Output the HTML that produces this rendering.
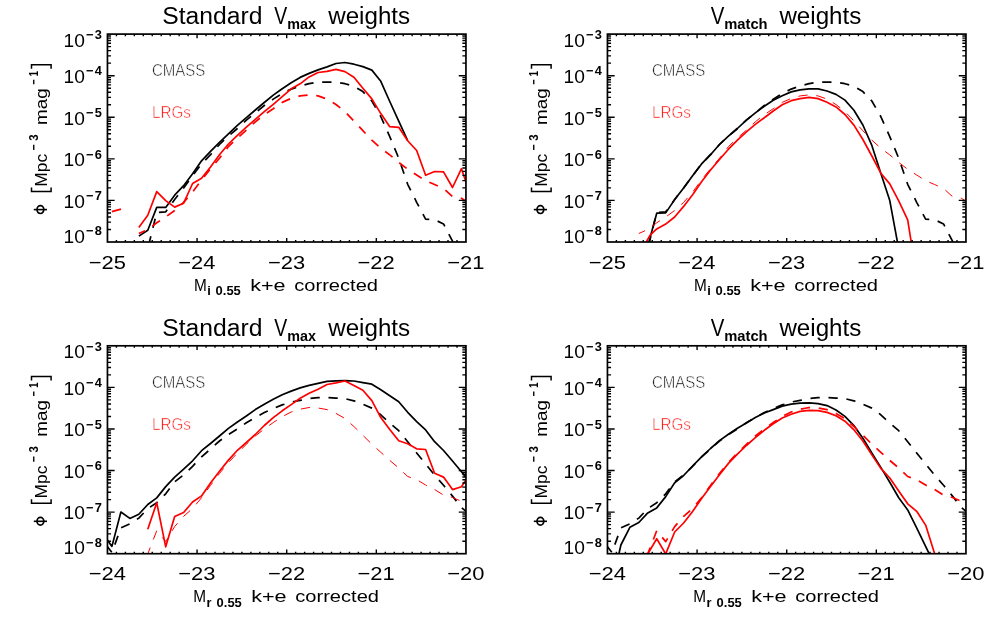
<!DOCTYPE html>
<html><head><meta charset="utf-8"><title>Luminosity functions</title>
<style>
html,body{margin:0;padding:0;background:#fff;}
body{width:999px;height:623px;overflow:hidden;position:relative;font-family:"Liberation Sans",sans-serif;}
</style></head><body>
<svg width="999" height="623" viewBox="0 0 999 623" style="position:absolute;left:0;top:0;will-change:transform" font-family="Liberation Sans, sans-serif">
<rect x="0" y="0" width="999" height="623" fill="#fff"/>
<defs>
<clipPath id="c1"><rect x="107.45" y="34.1" width="358.5" height="207.9"/></clipPath>
<clipPath id="c2"><rect x="607.45" y="34.1" width="358.5" height="207.9"/></clipPath>
<clipPath id="c3"><rect x="107.45" y="345.8" width="358.5" height="207.9"/></clipPath>
<clipPath id="c4"><rect x="607.45" y="345.8" width="358.5" height="207.9"/></clipPath>
</defs>
<g clip-path="url(#c1)">
<path d="M138.82 236.1 L147.78 230.3 L156.74 207.4 L165.71 207.4 L174.67 195.2 L183.63 185.7 L192.59 173.7 L201.56 160.8 L210.52 151.4 L219.48 142.3 L228.44 133.8 L237.41 125.4 L246.37 117.6 L255.33 110 L264.29 102.5 L273.26 95.1 L282.22 88.7 L291.18 82.8 L300.14 77.4 L309.11 73.4 L318.07 69.9 L327.03 66.9 L335.99 63.5 L344.96 62.5 L353.92 64.2 L362.88 66.6 L371.84 70.1 L380.81 81.3 L389.77 101.5 L398.73 121.2 L407.69 140.7" fill="none" stroke="#000" stroke-width="1.7" stroke-linejoin="round"/>
<path d="M147.78 248.7 L156.74 212.5 L165.71 211.8 L174.67 199.6 L183.63 188 L192.59 175.7 L201.56 163.9 L210.52 154.7 L219.48 144.5 L228.44 136.1 L237.41 128.5 L246.37 120.2 L255.33 112.9 L264.29 105.5 L273.26 99.1 L282.22 93.5 L291.18 89.1 L300.14 86 L309.11 83.6 L318.07 82.2 L327.03 82 L335.99 82.3 L344.96 83.7 L353.92 86.3 L362.88 91.6 L371.84 101 L380.81 116.6 L389.77 136.6 L398.73 158.2 L407.69 184.3 L416.66 202.3 L425.62 219.1 L434.58 219.7 L443.54 223.9 L452.51 241.2 L461.47 262" fill="none" stroke="#000" stroke-width="1.7" stroke-linejoin="round" stroke-dasharray="9.3 8.7" stroke-dashoffset="-3.5"/>
<path d="M138.82 227.6 L147.78 215.3 L156.74 191.6 L165.71 200.6 L174.67 207.1 L183.63 203.2 L192.59 183.5 L201.56 178.3 L210.52 167 L219.48 154.8 L228.44 144 L237.41 135.3 L246.37 127.2 L255.33 119.3 L264.29 111.7 L273.26 104.3 L282.22 96.7 L291.18 88.8 L300.14 83.8 L309.11 76.9 L318.07 72.5 L327.03 71.3 L335.99 69.4 L344.96 71.6 L353.92 77.3 L362.88 88.3 L371.84 98.9 L380.81 113.6 L389.77 126.7 L398.73 127.3 L407.69 140.7 L416.66 150.5 L425.62 175.2 L434.58 171.5 L443.54 171.9 L452.51 187.5 L461.47 168.7 L470.43 195.4" fill="none" stroke="#ff0000" stroke-width="1.7" stroke-linejoin="round"/>
<path d="M111.82 211.57 L120.96 209.11" fill="none" stroke="#ff0000" stroke-width="1.7" stroke-linejoin="round"/>
<path d="M138.82 233.5 L147.78 229.5 L156.74 222.8 L165.71 217 L174.67 210.5 L183.63 202.4 L192.59 192.1 L201.56 179.8 L210.52 168.7 L219.48 158.3 L228.44 146.6 L237.41 138 L246.37 130.2 L255.33 121.8 L264.29 114.7 L273.26 108.7 L282.22 102.4 L291.18 98.4 L300.14 95.9 L309.11 94.9 L318.07 95.9 L327.03 99.1 L335.99 104.5 L344.96 111.6 L353.92 121 L362.88 130.7 L371.84 140.1 L380.81 148.2 L389.77 154.9 L398.73 162.4 L407.69 169.3 L416.66 175 L425.62 180.7 L434.58 184.5 L443.54 188.5 L452.51 196.6 L461.47 198.3 L470.43 204" fill="none" stroke="#ff0000" stroke-width="1.7" stroke-linejoin="round" stroke-dasharray="9.3 8.7" stroke-dashoffset="2.5"/>
</g>
<g clip-path="url(#c2)">
<path d="M647.78 246.1 L656.74 213.2 L665.71 212.9 L674.67 199.6 L683.63 188 L692.59 175.7 L701.56 163.9 L710.52 154.7 L719.48 144.5 L728.44 136.1 L737.41 128.5 L746.37 120.2 L755.33 112.9 L764.29 106.3 L773.26 100.3 L782.22 95.7 L791.18 91.9 L800.14 89.8 L809.11 88.8 L818.07 88.8 L827.03 91 L835.99 94.4 L844.96 100.1 L853.92 110.3 L862.88 125 L871.84 145.4 L880.81 173.2 L889.77 200.6 L898.73 249" fill="none" stroke="#000" stroke-width="1.7" stroke-linejoin="round"/>
<path d="M647.78 248.7 L656.74 212.5 L665.71 211.8 L674.67 199.6 L683.63 188 L692.59 175.7 L701.56 163.9 L710.52 154.7 L719.48 144.5 L728.44 136.1 L737.41 128.5 L746.37 120.2 L755.33 112.9 L764.29 105.5 L773.26 99.1 L782.22 93.5 L791.18 89.1 L800.14 86 L809.11 83.6 L818.07 82.2 L827.03 82 L835.99 82.3 L844.96 83.7 L853.92 86.3 L862.88 91.6 L871.84 101 L880.81 116.6 L889.77 136.6 L898.73 158.2 L907.69 184.3 L916.66 202.3 L925.62 219.1 L934.58 219.7 L943.54 223.9 L952.51 241.2 L961.47 262" fill="none" stroke="#000" stroke-width="1.7" stroke-linejoin="round" stroke-dasharray="9.3 8.7" stroke-dashoffset="-3.5"/>
<path d="M646.26 241.9 L650.38 234.8 L656.74 228.9 L665.71 224.1 L674.67 217 L683.63 206.4 L692.59 194.8 L701.56 181.8 L710.52 170 L719.48 159.5 L728.44 149.2 L737.41 140.1 L746.37 131.9 L755.33 124.4 L764.29 117.8 L773.26 111 L782.22 104.8 L791.18 100.7 L800.14 98.6 L809.11 97.3 L818.07 98.6 L827.03 102.3 L835.99 106.9 L844.96 114.5 L853.92 125.1 L862.88 139.5 L871.84 156 L880.81 173.2 L889.77 183.9 L898.73 200.8 L907.69 219.8 L916.66 276.6" fill="none" stroke="#ff0000" stroke-width="1.7" stroke-linejoin="round"/>
<path d="M638.82 233.5 L647.78 229.5 L656.74 222.8 L665.71 217 L674.67 210.5 L683.63 202.4 L692.59 192.1 L701.56 179.8 L710.52 168.7 L719.48 158.3 L728.44 146.6 L737.41 138 L746.37 130.2 L755.33 121.8 L764.29 114.7 L773.26 108.7 L782.22 102.4 L791.18 98.4 L800.14 95.9 L809.11 94.9 L818.07 95.9 L827.03 99.1 L835.99 104.5 L844.96 111.6 L853.92 121 L862.88 130.7 L871.84 140.1 L880.81 148.2 L889.77 154.9 L898.73 162.4 L907.69 169.3 L916.66 175 L925.62 180.7 L934.58 184.5 L943.54 188.5 L952.51 196.6 L961.47 198.3 L970.43 204" fill="none" stroke="#ff0000" stroke-width="1" stroke-linejoin="round" stroke-dasharray="9.3 8.7" stroke-dashoffset="2.5"/>
</g>
<g clip-path="url(#c3)">
<path d="M102.97 533.7 L111.93 546.4 L120.89 512 L129.86 518.4 L138.82 514.3 L147.78 504.5 L156.74 497.9 L165.71 486.6 L174.67 477.2 L183.63 469.2 L192.59 460.8 L201.56 450.7 L210.52 443.5 L219.48 436 L228.44 428.4 L237.41 422 L246.37 416 L255.33 409.6 L264.29 404.2 L273.26 399.2 L282.22 394.8 L291.18 391.1 L300.14 387.9 L309.11 385.4 L318.07 383.3 L327.03 381.4 L335.99 380.8 L344.96 380.7 L353.92 381 L362.88 382.7 L371.84 384.2 L380.81 389.8 L389.77 395.8 L398.73 401.7 L407.69 412.3 L416.66 421.7 L425.62 429.9 L434.58 441.7 L443.54 450.5 L452.51 461 L461.47 471.7 L470.43 483" fill="none" stroke="#000" stroke-width="1.7" stroke-linejoin="round"/>
<path d="M102.97 541 L111.93 552.5 L120.89 527.9 L129.86 523.8 L138.82 518.1 L147.78 508.6 L156.74 502.7 L165.71 493.8 L174.67 481.8 L183.63 474.9 L192.59 466.3 L201.56 456.9 L210.52 449 L219.48 441 L228.44 434.5 L237.41 428.9 L246.37 422.7 L255.33 417.4 L264.29 412.6 L273.26 408.5 L282.22 404.9 L291.18 402.1 L300.14 400.3 L309.11 398.6 L318.07 397.7 L327.03 397.6 L335.99 398.1 L344.96 398.7 L353.92 400.8 L362.88 404.2 L371.84 408.1 L380.81 414.8 L389.77 423 L398.73 430.7 L407.69 441.7 L416.66 453 L425.62 464 L434.58 475.1 L443.54 485.2 L452.51 496.1 L461.47 507.6 L470.43 515" fill="none" stroke="#000" stroke-width="1.7" stroke-linejoin="round" stroke-dasharray="9.3 8.7" stroke-dashoffset="-5"/>
<path d="M147.78 529.3 L156.74 502.7 L165.71 546.8 L174.67 516.6 L183.63 512.5 L192.59 502 L201.56 495.9 L210.52 483.1 L219.48 471.2 L228.44 460.1 L237.41 450.3 L246.37 442.5 L255.33 434.5 L264.29 425.5 L273.26 417.7 L282.22 410.8 L291.18 404.6 L300.14 398.3 L309.11 393.3 L318.07 389.2 L327.03 384.5 L335.99 382.9 L344.96 381 L353.92 385.4 L362.88 390.3 L371.84 400.6 L380.81 417.6 L389.77 429.5 L398.73 440.8 L407.69 443.8 L416.66 448.8 L425.62 449.5 L434.58 473.3 L443.54 477.1 L452.51 489.6 L461.47 486.7 L470.43 472.9" fill="none" stroke="#ff0000" stroke-width="1.7" stroke-linejoin="round"/>
<path d="M147.78 553.9 L156.74 530.7 L165.71 541.6 L174.67 526.6 L183.63 516.3 L192.59 508.5 L201.56 497.7 L210.52 485.4 L219.48 473.5 L228.44 462.6 L237.41 453 L246.37 444.3 L255.33 436 L264.29 429 L273.26 422.5 L282.22 416.6 L291.18 412 L300.14 409.2 L309.11 407.5 L318.07 408 L327.03 409.6 L335.99 413.4 L344.96 418.5 L353.92 426.5 L362.88 435.3 L371.84 444.2 L380.81 452.3 L389.77 460.4 L398.73 468 L407.69 476.5 L416.66 479.6 L425.62 485 L434.58 489.5 L443.54 495.1 L452.51 497.5 L461.47 501.3 L470.43 506" fill="none" stroke="#ff0000" stroke-width="1" stroke-linejoin="round" stroke-dasharray="9.3 8.7" stroke-dashoffset="2.5"/>
</g>
<g clip-path="url(#c4)">
<path d="M611.93 585 L620.89 545 L629.86 527.3 L638.82 522.5 L647.78 512.9 L656.74 507.9 L665.71 496.6 L674.67 482.8 L683.63 475.5 L692.59 466 L701.56 456.8 L710.52 448.5 L719.48 440.6 L728.44 434.2 L737.41 428.2 L746.37 422.9 L755.33 417.6 L764.29 413 L773.26 409.6 L782.22 406.1 L791.18 404.2 L800.14 403.2 L809.11 402.9 L818.07 403.6 L827.03 405.6 L835.99 410 L844.96 416.4 L853.92 425.6 L862.88 438.3 L871.84 452.9 L880.81 467.4 L889.77 482.2 L898.73 497.7 L907.69 509.9 L916.66 527.8 L925.62 546.4 L934.58 564.9" fill="none" stroke="#000" stroke-width="1.7" stroke-linejoin="round"/>
<path d="M602.97 541 L611.93 552.5 L620.89 527.9 L629.86 523.8 L638.82 518.1 L647.78 508.6 L656.74 502.7 L665.71 493.8 L674.67 481.8 L683.63 474.9 L692.59 466.3 L701.56 456.9 L710.52 449 L719.48 441 L728.44 434.5 L737.41 428.9 L746.37 422.7 L755.33 417.4 L764.29 412.6 L773.26 408.5 L782.22 404.9 L791.18 402.1 L800.14 400.3 L809.11 398.6 L818.07 397.7 L827.03 397.6 L835.99 398.1 L844.96 398.7 L853.92 400.8 L862.88 404.2 L871.84 408.1 L880.81 414.8 L889.77 423 L898.73 430.7 L907.69 441.7 L916.66 453 L925.62 464 L934.58 475.1 L943.54 485.2 L952.51 496.1 L961.47 507.6 L970.43 515" fill="none" stroke="#000" stroke-width="1.7" stroke-linejoin="round" stroke-dasharray="9.3 8.7" stroke-dashoffset="-5"/>
<path d="M647.78 553.9 L656.74 538.8 L665.71 553.9 L674.67 532 L683.63 523 L692.59 511.5 L701.56 498.5 L710.52 486.4 L719.48 474.7 L728.44 463.4 L737.41 454.2 L746.37 445.5 L755.33 437.6 L764.29 430.3 L773.26 423.8 L782.22 418 L791.18 414.2 L800.14 411.4 L809.11 410.3 L818.07 410.6 L827.03 412.4 L835.99 415.8 L844.96 421.2 L853.92 429.8 L862.88 441 L871.84 454.9 L880.81 468.4 L889.77 478 L898.73 491 L907.69 503.8 L916.66 511.3 L925.62 525.1 L934.58 553.5 L943.54 600" fill="none" stroke="#ff0000" stroke-width="1.7" stroke-linejoin="round"/>
<path d="M647.78 553.9 L656.74 530.7 L665.71 541.6 L674.67 526.6 L683.63 516.3 L692.59 508.5 L701.56 497.7 L710.52 485.4 L719.48 473.5 L728.44 462.6 L737.41 453 L746.37 444.3 L755.33 436 L764.29 429 L773.26 422.5 L782.22 416.6 L791.18 412 L800.14 409.2 L809.11 407.5 L818.07 408 L827.03 409.6 L835.99 413.4 L844.96 418.5 L853.92 426.5 L862.88 435.3 L871.84 444.2 L880.81 452.3 L889.77 460.4 L898.73 468 L907.69 476.5 L916.66 479.6 L925.62 485 L934.58 489.5 L943.54 495.1 L952.51 497.5 L961.47 501.3 L970.43 506" fill="none" stroke="#ff0000" stroke-width="1.7" stroke-linejoin="round" stroke-dasharray="9.3 8.7" stroke-dashoffset="2.5"/>
</g>
<rect x="107.45" y="34.1" width="358.5" height="207.9" fill="none" stroke="#000" stroke-width="1.7"/>
<path d="M116.41 242 v-2.05 M116.41 34.1 v2.05 M125.38 242 v-2.05 M125.38 34.1 v2.05 M134.34 242 v-2.05 M134.34 34.1 v2.05 M143.3 242 v-2.05 M143.3 34.1 v2.05 M152.26 242 v-2.05 M152.26 34.1 v2.05 M161.22 242 v-2.05 M161.22 34.1 v2.05 M170.19 242 v-2.05 M170.19 34.1 v2.05 M179.15 242 v-2.05 M179.15 34.1 v2.05 M188.11 242 v-2.05 M188.11 34.1 v2.05 M197.07 242 v-4.1 M197.07 34.1 v4.1 M206.04 242 v-2.05 M206.04 34.1 v2.05 M215 242 v-2.05 M215 34.1 v2.05 M223.96 242 v-2.05 M223.96 34.1 v2.05 M232.93 242 v-2.05 M232.93 34.1 v2.05 M241.89 242 v-2.05 M241.89 34.1 v2.05 M250.85 242 v-2.05 M250.85 34.1 v2.05 M259.81 242 v-2.05 M259.81 34.1 v2.05 M268.77 242 v-2.05 M268.77 34.1 v2.05 M277.74 242 v-2.05 M277.74 34.1 v2.05 M286.7 242 v-4.1 M286.7 34.1 v4.1 M295.66 242 v-2.05 M295.66 34.1 v2.05 M304.62 242 v-2.05 M304.62 34.1 v2.05 M313.59 242 v-2.05 M313.59 34.1 v2.05 M322.55 242 v-2.05 M322.55 34.1 v2.05 M331.51 242 v-2.05 M331.51 34.1 v2.05 M340.48 242 v-2.05 M340.48 34.1 v2.05 M349.44 242 v-2.05 M349.44 34.1 v2.05 M358.4 242 v-2.05 M358.4 34.1 v2.05 M367.36 242 v-2.05 M367.36 34.1 v2.05 M376.32 242 v-4.1 M376.32 34.1 v4.1 M385.29 242 v-2.05 M385.29 34.1 v2.05 M394.25 242 v-2.05 M394.25 34.1 v2.05 M403.21 242 v-2.05 M403.21 34.1 v2.05 M412.18 242 v-2.05 M412.18 34.1 v2.05 M421.14 242 v-2.05 M421.14 34.1 v2.05 M430.1 242 v-2.05 M430.1 34.1 v2.05 M439.06 242 v-2.05 M439.06 34.1 v2.05 M448.02 242 v-2.05 M448.02 34.1 v2.05 M456.99 242 v-2.05 M456.99 34.1 v2.05 M107.45 63.16 h3.6 M465.95 63.16 h-3.6 M107.45 55.84 h3.6 M465.95 55.84 h-3.6 M107.45 50.65 h3.6 M465.95 50.65 h-3.6 M107.45 46.62 h3.6 M465.95 46.62 h-3.6 M107.45 43.32 h3.6 M465.95 43.32 h-3.6 M107.45 40.54 h3.6 M465.95 40.54 h-3.6 M107.45 38.13 h3.6 M465.95 38.13 h-3.6 M107.45 36 h3.6 M465.95 36 h-3.6 M107.45 75.68 h7.2 M465.95 75.68 h-7.2 M107.45 104.74 h3.6 M465.95 104.74 h-3.6 M107.45 97.42 h3.6 M465.95 97.42 h-3.6 M107.45 92.23 h3.6 M465.95 92.23 h-3.6 M107.45 88.2 h3.6 M465.95 88.2 h-3.6 M107.45 84.9 h3.6 M465.95 84.9 h-3.6 M107.45 82.12 h3.6 M465.95 82.12 h-3.6 M107.45 79.71 h3.6 M465.95 79.71 h-3.6 M107.45 77.58 h3.6 M465.95 77.58 h-3.6 M107.45 117.26 h7.2 M465.95 117.26 h-7.2 M107.45 146.32 h3.6 M465.95 146.32 h-3.6 M107.45 139 h3.6 M465.95 139 h-3.6 M107.45 133.81 h3.6 M465.95 133.81 h-3.6 M107.45 129.78 h3.6 M465.95 129.78 h-3.6 M107.45 126.48 h3.6 M465.95 126.48 h-3.6 M107.45 123.7 h3.6 M465.95 123.7 h-3.6 M107.45 121.29 h3.6 M465.95 121.29 h-3.6 M107.45 119.16 h3.6 M465.95 119.16 h-3.6 M107.45 158.84 h7.2 M465.95 158.84 h-7.2 M107.45 187.9 h3.6 M465.95 187.9 h-3.6 M107.45 180.58 h3.6 M465.95 180.58 h-3.6 M107.45 175.39 h3.6 M465.95 175.39 h-3.6 M107.45 171.36 h3.6 M465.95 171.36 h-3.6 M107.45 168.06 h3.6 M465.95 168.06 h-3.6 M107.45 165.28 h3.6 M465.95 165.28 h-3.6 M107.45 162.87 h3.6 M465.95 162.87 h-3.6 M107.45 160.74 h3.6 M465.95 160.74 h-3.6 M107.45 200.42 h7.2 M465.95 200.42 h-7.2 M107.45 229.48 h3.6 M465.95 229.48 h-3.6 M107.45 222.16 h3.6 M465.95 222.16 h-3.6 M107.45 216.97 h3.6 M465.95 216.97 h-3.6 M107.45 212.94 h3.6 M465.95 212.94 h-3.6 M107.45 209.64 h3.6 M465.95 209.64 h-3.6 M107.45 206.86 h3.6 M465.95 206.86 h-3.6 M107.45 204.45 h3.6 M465.95 204.45 h-3.6 M107.45 202.32 h3.6 M465.95 202.32 h-3.6" fill="none" stroke="#000" stroke-width="1.4"/>
<rect x="607.45" y="34.1" width="358.5" height="207.9" fill="none" stroke="#000" stroke-width="1.7"/>
<path d="M616.41 242 v-2.05 M616.41 34.1 v2.05 M625.38 242 v-2.05 M625.38 34.1 v2.05 M634.34 242 v-2.05 M634.34 34.1 v2.05 M643.3 242 v-2.05 M643.3 34.1 v2.05 M652.26 242 v-2.05 M652.26 34.1 v2.05 M661.23 242 v-2.05 M661.23 34.1 v2.05 M670.19 242 v-2.05 M670.19 34.1 v2.05 M679.15 242 v-2.05 M679.15 34.1 v2.05 M688.11 242 v-2.05 M688.11 34.1 v2.05 M697.08 242 v-4.1 M697.08 34.1 v4.1 M706.04 242 v-2.05 M706.04 34.1 v2.05 M715 242 v-2.05 M715 34.1 v2.05 M723.96 242 v-2.05 M723.96 34.1 v2.05 M732.93 242 v-2.05 M732.93 34.1 v2.05 M741.89 242 v-2.05 M741.89 34.1 v2.05 M750.85 242 v-2.05 M750.85 34.1 v2.05 M759.81 242 v-2.05 M759.81 34.1 v2.05 M768.78 242 v-2.05 M768.78 34.1 v2.05 M777.74 242 v-2.05 M777.74 34.1 v2.05 M786.7 242 v-4.1 M786.7 34.1 v4.1 M795.66 242 v-2.05 M795.66 34.1 v2.05 M804.62 242 v-2.05 M804.62 34.1 v2.05 M813.59 242 v-2.05 M813.59 34.1 v2.05 M822.55 242 v-2.05 M822.55 34.1 v2.05 M831.51 242 v-2.05 M831.51 34.1 v2.05 M840.48 242 v-2.05 M840.48 34.1 v2.05 M849.44 242 v-2.05 M849.44 34.1 v2.05 M858.4 242 v-2.05 M858.4 34.1 v2.05 M867.36 242 v-2.05 M867.36 34.1 v2.05 M876.33 242 v-4.1 M876.33 34.1 v4.1 M885.29 242 v-2.05 M885.29 34.1 v2.05 M894.25 242 v-2.05 M894.25 34.1 v2.05 M903.21 242 v-2.05 M903.21 34.1 v2.05 M912.18 242 v-2.05 M912.18 34.1 v2.05 M921.14 242 v-2.05 M921.14 34.1 v2.05 M930.1 242 v-2.05 M930.1 34.1 v2.05 M939.06 242 v-2.05 M939.06 34.1 v2.05 M948.03 242 v-2.05 M948.03 34.1 v2.05 M956.99 242 v-2.05 M956.99 34.1 v2.05 M607.45 63.16 h3.6 M965.95 63.16 h-3.6 M607.45 55.84 h3.6 M965.95 55.84 h-3.6 M607.45 50.65 h3.6 M965.95 50.65 h-3.6 M607.45 46.62 h3.6 M965.95 46.62 h-3.6 M607.45 43.32 h3.6 M965.95 43.32 h-3.6 M607.45 40.54 h3.6 M965.95 40.54 h-3.6 M607.45 38.13 h3.6 M965.95 38.13 h-3.6 M607.45 36 h3.6 M965.95 36 h-3.6 M607.45 75.68 h7.2 M965.95 75.68 h-7.2 M607.45 104.74 h3.6 M965.95 104.74 h-3.6 M607.45 97.42 h3.6 M965.95 97.42 h-3.6 M607.45 92.23 h3.6 M965.95 92.23 h-3.6 M607.45 88.2 h3.6 M965.95 88.2 h-3.6 M607.45 84.9 h3.6 M965.95 84.9 h-3.6 M607.45 82.12 h3.6 M965.95 82.12 h-3.6 M607.45 79.71 h3.6 M965.95 79.71 h-3.6 M607.45 77.58 h3.6 M965.95 77.58 h-3.6 M607.45 117.26 h7.2 M965.95 117.26 h-7.2 M607.45 146.32 h3.6 M965.95 146.32 h-3.6 M607.45 139 h3.6 M965.95 139 h-3.6 M607.45 133.81 h3.6 M965.95 133.81 h-3.6 M607.45 129.78 h3.6 M965.95 129.78 h-3.6 M607.45 126.48 h3.6 M965.95 126.48 h-3.6 M607.45 123.7 h3.6 M965.95 123.7 h-3.6 M607.45 121.29 h3.6 M965.95 121.29 h-3.6 M607.45 119.16 h3.6 M965.95 119.16 h-3.6 M607.45 158.84 h7.2 M965.95 158.84 h-7.2 M607.45 187.9 h3.6 M965.95 187.9 h-3.6 M607.45 180.58 h3.6 M965.95 180.58 h-3.6 M607.45 175.39 h3.6 M965.95 175.39 h-3.6 M607.45 171.36 h3.6 M965.95 171.36 h-3.6 M607.45 168.06 h3.6 M965.95 168.06 h-3.6 M607.45 165.28 h3.6 M965.95 165.28 h-3.6 M607.45 162.87 h3.6 M965.95 162.87 h-3.6 M607.45 160.74 h3.6 M965.95 160.74 h-3.6 M607.45 200.42 h7.2 M965.95 200.42 h-7.2 M607.45 229.48 h3.6 M965.95 229.48 h-3.6 M607.45 222.16 h3.6 M965.95 222.16 h-3.6 M607.45 216.97 h3.6 M965.95 216.97 h-3.6 M607.45 212.94 h3.6 M965.95 212.94 h-3.6 M607.45 209.64 h3.6 M965.95 209.64 h-3.6 M607.45 206.86 h3.6 M965.95 206.86 h-3.6 M607.45 204.45 h3.6 M965.95 204.45 h-3.6 M607.45 202.32 h3.6 M965.95 202.32 h-3.6" fill="none" stroke="#000" stroke-width="1.4"/>
<rect x="107.45" y="345.8" width="358.5" height="207.9" fill="none" stroke="#000" stroke-width="1.7"/>
<path d="M116.41 553.7 v-2.05 M116.41 345.8 v2.05 M125.38 553.7 v-2.05 M125.38 345.8 v2.05 M134.34 553.7 v-2.05 M134.34 345.8 v2.05 M143.3 553.7 v-2.05 M143.3 345.8 v2.05 M152.26 553.7 v-2.05 M152.26 345.8 v2.05 M161.22 553.7 v-2.05 M161.22 345.8 v2.05 M170.19 553.7 v-2.05 M170.19 345.8 v2.05 M179.15 553.7 v-2.05 M179.15 345.8 v2.05 M188.11 553.7 v-2.05 M188.11 345.8 v2.05 M197.07 553.7 v-4.1 M197.07 345.8 v4.1 M206.04 553.7 v-2.05 M206.04 345.8 v2.05 M215 553.7 v-2.05 M215 345.8 v2.05 M223.96 553.7 v-2.05 M223.96 345.8 v2.05 M232.93 553.7 v-2.05 M232.93 345.8 v2.05 M241.89 553.7 v-2.05 M241.89 345.8 v2.05 M250.85 553.7 v-2.05 M250.85 345.8 v2.05 M259.81 553.7 v-2.05 M259.81 345.8 v2.05 M268.77 553.7 v-2.05 M268.77 345.8 v2.05 M277.74 553.7 v-2.05 M277.74 345.8 v2.05 M286.7 553.7 v-4.1 M286.7 345.8 v4.1 M295.66 553.7 v-2.05 M295.66 345.8 v2.05 M304.62 553.7 v-2.05 M304.62 345.8 v2.05 M313.59 553.7 v-2.05 M313.59 345.8 v2.05 M322.55 553.7 v-2.05 M322.55 345.8 v2.05 M331.51 553.7 v-2.05 M331.51 345.8 v2.05 M340.48 553.7 v-2.05 M340.48 345.8 v2.05 M349.44 553.7 v-2.05 M349.44 345.8 v2.05 M358.4 553.7 v-2.05 M358.4 345.8 v2.05 M367.36 553.7 v-2.05 M367.36 345.8 v2.05 M376.32 553.7 v-4.1 M376.32 345.8 v4.1 M385.29 553.7 v-2.05 M385.29 345.8 v2.05 M394.25 553.7 v-2.05 M394.25 345.8 v2.05 M403.21 553.7 v-2.05 M403.21 345.8 v2.05 M412.18 553.7 v-2.05 M412.18 345.8 v2.05 M421.14 553.7 v-2.05 M421.14 345.8 v2.05 M430.1 553.7 v-2.05 M430.1 345.8 v2.05 M439.06 553.7 v-2.05 M439.06 345.8 v2.05 M448.02 553.7 v-2.05 M448.02 345.8 v2.05 M456.99 553.7 v-2.05 M456.99 345.8 v2.05 M107.45 374.86 h3.6 M465.95 374.86 h-3.6 M107.45 367.54 h3.6 M465.95 367.54 h-3.6 M107.45 362.35 h3.6 M465.95 362.35 h-3.6 M107.45 358.32 h3.6 M465.95 358.32 h-3.6 M107.45 355.02 h3.6 M465.95 355.02 h-3.6 M107.45 352.24 h3.6 M465.95 352.24 h-3.6 M107.45 349.83 h3.6 M465.95 349.83 h-3.6 M107.45 347.7 h3.6 M465.95 347.7 h-3.6 M107.45 387.38 h7.2 M465.95 387.38 h-7.2 M107.45 416.44 h3.6 M465.95 416.44 h-3.6 M107.45 409.12 h3.6 M465.95 409.12 h-3.6 M107.45 403.93 h3.6 M465.95 403.93 h-3.6 M107.45 399.9 h3.6 M465.95 399.9 h-3.6 M107.45 396.6 h3.6 M465.95 396.6 h-3.6 M107.45 393.82 h3.6 M465.95 393.82 h-3.6 M107.45 391.41 h3.6 M465.95 391.41 h-3.6 M107.45 389.28 h3.6 M465.95 389.28 h-3.6 M107.45 428.96 h7.2 M465.95 428.96 h-7.2 M107.45 458.02 h3.6 M465.95 458.02 h-3.6 M107.45 450.7 h3.6 M465.95 450.7 h-3.6 M107.45 445.51 h3.6 M465.95 445.51 h-3.6 M107.45 441.48 h3.6 M465.95 441.48 h-3.6 M107.45 438.18 h3.6 M465.95 438.18 h-3.6 M107.45 435.4 h3.6 M465.95 435.4 h-3.6 M107.45 432.99 h3.6 M465.95 432.99 h-3.6 M107.45 430.86 h3.6 M465.95 430.86 h-3.6 M107.45 470.54 h7.2 M465.95 470.54 h-7.2 M107.45 499.6 h3.6 M465.95 499.6 h-3.6 M107.45 492.28 h3.6 M465.95 492.28 h-3.6 M107.45 487.09 h3.6 M465.95 487.09 h-3.6 M107.45 483.06 h3.6 M465.95 483.06 h-3.6 M107.45 479.76 h3.6 M465.95 479.76 h-3.6 M107.45 476.98 h3.6 M465.95 476.98 h-3.6 M107.45 474.57 h3.6 M465.95 474.57 h-3.6 M107.45 472.44 h3.6 M465.95 472.44 h-3.6 M107.45 512.12 h7.2 M465.95 512.12 h-7.2 M107.45 541.18 h3.6 M465.95 541.18 h-3.6 M107.45 533.86 h3.6 M465.95 533.86 h-3.6 M107.45 528.67 h3.6 M465.95 528.67 h-3.6 M107.45 524.64 h3.6 M465.95 524.64 h-3.6 M107.45 521.34 h3.6 M465.95 521.34 h-3.6 M107.45 518.56 h3.6 M465.95 518.56 h-3.6 M107.45 516.15 h3.6 M465.95 516.15 h-3.6 M107.45 514.02 h3.6 M465.95 514.02 h-3.6" fill="none" stroke="#000" stroke-width="1.4"/>
<rect x="607.45" y="345.8" width="358.5" height="207.9" fill="none" stroke="#000" stroke-width="1.7"/>
<path d="M616.41 553.7 v-2.05 M616.41 345.8 v2.05 M625.38 553.7 v-2.05 M625.38 345.8 v2.05 M634.34 553.7 v-2.05 M634.34 345.8 v2.05 M643.3 553.7 v-2.05 M643.3 345.8 v2.05 M652.26 553.7 v-2.05 M652.26 345.8 v2.05 M661.23 553.7 v-2.05 M661.23 345.8 v2.05 M670.19 553.7 v-2.05 M670.19 345.8 v2.05 M679.15 553.7 v-2.05 M679.15 345.8 v2.05 M688.11 553.7 v-2.05 M688.11 345.8 v2.05 M697.08 553.7 v-4.1 M697.08 345.8 v4.1 M706.04 553.7 v-2.05 M706.04 345.8 v2.05 M715 553.7 v-2.05 M715 345.8 v2.05 M723.96 553.7 v-2.05 M723.96 345.8 v2.05 M732.93 553.7 v-2.05 M732.93 345.8 v2.05 M741.89 553.7 v-2.05 M741.89 345.8 v2.05 M750.85 553.7 v-2.05 M750.85 345.8 v2.05 M759.81 553.7 v-2.05 M759.81 345.8 v2.05 M768.78 553.7 v-2.05 M768.78 345.8 v2.05 M777.74 553.7 v-2.05 M777.74 345.8 v2.05 M786.7 553.7 v-4.1 M786.7 345.8 v4.1 M795.66 553.7 v-2.05 M795.66 345.8 v2.05 M804.62 553.7 v-2.05 M804.62 345.8 v2.05 M813.59 553.7 v-2.05 M813.59 345.8 v2.05 M822.55 553.7 v-2.05 M822.55 345.8 v2.05 M831.51 553.7 v-2.05 M831.51 345.8 v2.05 M840.48 553.7 v-2.05 M840.48 345.8 v2.05 M849.44 553.7 v-2.05 M849.44 345.8 v2.05 M858.4 553.7 v-2.05 M858.4 345.8 v2.05 M867.36 553.7 v-2.05 M867.36 345.8 v2.05 M876.33 553.7 v-4.1 M876.33 345.8 v4.1 M885.29 553.7 v-2.05 M885.29 345.8 v2.05 M894.25 553.7 v-2.05 M894.25 345.8 v2.05 M903.21 553.7 v-2.05 M903.21 345.8 v2.05 M912.18 553.7 v-2.05 M912.18 345.8 v2.05 M921.14 553.7 v-2.05 M921.14 345.8 v2.05 M930.1 553.7 v-2.05 M930.1 345.8 v2.05 M939.06 553.7 v-2.05 M939.06 345.8 v2.05 M948.03 553.7 v-2.05 M948.03 345.8 v2.05 M956.99 553.7 v-2.05 M956.99 345.8 v2.05 M607.45 374.86 h3.6 M965.95 374.86 h-3.6 M607.45 367.54 h3.6 M965.95 367.54 h-3.6 M607.45 362.35 h3.6 M965.95 362.35 h-3.6 M607.45 358.32 h3.6 M965.95 358.32 h-3.6 M607.45 355.02 h3.6 M965.95 355.02 h-3.6 M607.45 352.24 h3.6 M965.95 352.24 h-3.6 M607.45 349.83 h3.6 M965.95 349.83 h-3.6 M607.45 347.7 h3.6 M965.95 347.7 h-3.6 M607.45 387.38 h7.2 M965.95 387.38 h-7.2 M607.45 416.44 h3.6 M965.95 416.44 h-3.6 M607.45 409.12 h3.6 M965.95 409.12 h-3.6 M607.45 403.93 h3.6 M965.95 403.93 h-3.6 M607.45 399.9 h3.6 M965.95 399.9 h-3.6 M607.45 396.6 h3.6 M965.95 396.6 h-3.6 M607.45 393.82 h3.6 M965.95 393.82 h-3.6 M607.45 391.41 h3.6 M965.95 391.41 h-3.6 M607.45 389.28 h3.6 M965.95 389.28 h-3.6 M607.45 428.96 h7.2 M965.95 428.96 h-7.2 M607.45 458.02 h3.6 M965.95 458.02 h-3.6 M607.45 450.7 h3.6 M965.95 450.7 h-3.6 M607.45 445.51 h3.6 M965.95 445.51 h-3.6 M607.45 441.48 h3.6 M965.95 441.48 h-3.6 M607.45 438.18 h3.6 M965.95 438.18 h-3.6 M607.45 435.4 h3.6 M965.95 435.4 h-3.6 M607.45 432.99 h3.6 M965.95 432.99 h-3.6 M607.45 430.86 h3.6 M965.95 430.86 h-3.6 M607.45 470.54 h7.2 M965.95 470.54 h-7.2 M607.45 499.6 h3.6 M965.95 499.6 h-3.6 M607.45 492.28 h3.6 M965.95 492.28 h-3.6 M607.45 487.09 h3.6 M965.95 487.09 h-3.6 M607.45 483.06 h3.6 M965.95 483.06 h-3.6 M607.45 479.76 h3.6 M965.95 479.76 h-3.6 M607.45 476.98 h3.6 M965.95 476.98 h-3.6 M607.45 474.57 h3.6 M965.95 474.57 h-3.6 M607.45 472.44 h3.6 M965.95 472.44 h-3.6 M607.45 512.12 h7.2 M965.95 512.12 h-7.2 M607.45 541.18 h3.6 M965.95 541.18 h-3.6 M607.45 533.86 h3.6 M965.95 533.86 h-3.6 M607.45 528.67 h3.6 M965.95 528.67 h-3.6 M607.45 524.64 h3.6 M965.95 524.64 h-3.6 M607.45 521.34 h3.6 M965.95 521.34 h-3.6 M607.45 518.56 h3.6 M965.95 518.56 h-3.6 M607.45 516.15 h3.6 M965.95 516.15 h-3.6 M607.45 514.02 h3.6 M965.95 514.02 h-3.6" fill="none" stroke="#000" stroke-width="1.4"/>
<text x="162.2" y="24.1" font-size="23.3" font-weight="normal" fill="#000" textLength="100.2" lengthAdjust="spacingAndGlyphs">Standard</text>
<text x="274.3" y="24.1" font-size="23.3" font-weight="normal" fill="#000" textLength="13" lengthAdjust="spacingAndGlyphs">V</text>
<text x="287.2" y="29.3" font-size="14" font-weight="bold" fill="#000" textLength="28.7" lengthAdjust="spacingAndGlyphs">max</text>
<text x="328.2" y="24" font-size="23.3" font-weight="normal" fill="#000" textLength="82" lengthAdjust="spacingAndGlyphs">weights</text>
<text x="63.6" y="46.6" font-size="19.2" font-weight="normal" fill="#000">10</text>
<text x="85.9" y="39.1" font-size="12.8" font-weight="bold" fill="#000" textLength="16" lengthAdjust="spacing">−3</text>
<text x="63.6" y="82.98" font-size="19.2" font-weight="normal" fill="#000">10</text>
<text x="85.9" y="75.48" font-size="12.8" font-weight="bold" fill="#000" textLength="16" lengthAdjust="spacing">−4</text>
<text x="63.6" y="124.56" font-size="19.2" font-weight="normal" fill="#000">10</text>
<text x="85.9" y="117.06" font-size="12.8" font-weight="bold" fill="#000" textLength="16" lengthAdjust="spacing">−5</text>
<text x="63.6" y="166.14" font-size="19.2" font-weight="normal" fill="#000">10</text>
<text x="85.9" y="158.64" font-size="12.8" font-weight="bold" fill="#000" textLength="16" lengthAdjust="spacing">−6</text>
<text x="63.6" y="207.72" font-size="19.2" font-weight="normal" fill="#000">10</text>
<text x="85.9" y="200.22" font-size="12.8" font-weight="bold" fill="#000" textLength="16" lengthAdjust="spacing">−7</text>
<text x="63.6" y="242.6" font-size="19.2" font-weight="normal" fill="#000">10</text>
<text x="85.9" y="235.1" font-size="12.8" font-weight="bold" fill="#000" textLength="16" lengthAdjust="spacing">−8</text>
<text x="88.65" y="268.7" font-size="19.2" font-weight="normal" fill="#000" textLength="37.2" lengthAdjust="spacingAndGlyphs">−25</text>
<text x="178.27" y="268.7" font-size="19.2" font-weight="normal" fill="#000" textLength="37.2" lengthAdjust="spacingAndGlyphs">−24</text>
<text x="267.9" y="268.7" font-size="19.2" font-weight="normal" fill="#000" textLength="37.2" lengthAdjust="spacingAndGlyphs">−23</text>
<text x="357.52" y="268.7" font-size="19.2" font-weight="normal" fill="#000" textLength="37.2" lengthAdjust="spacingAndGlyphs">−22</text>
<text x="447.15" y="268.7" font-size="19.2" font-weight="normal" fill="#000" textLength="37.2" lengthAdjust="spacingAndGlyphs">−21</text>
<text x="194.1" y="290.6" font-size="17.3" font-weight="normal" fill="#000" textLength="12.8" lengthAdjust="spacingAndGlyphs">M</text>
<text x="207.2" y="295.3" font-size="12.8" font-weight="bold" fill="#000">i</text>
<text x="215.6" y="295.3" font-size="12.8" font-weight="bold" fill="#000" textLength="25.2" lengthAdjust="spacingAndGlyphs">0.55</text>
<text x="250.2" y="290.6" font-size="17.4" font-weight="normal" fill="#000" textLength="35.4" lengthAdjust="spacingAndGlyphs">k+e</text>
<text x="294.3" y="290.6" font-size="17.4" font-weight="normal" fill="#000" textLength="83.7" lengthAdjust="spacingAndGlyphs">corrected</text>
<text x="151.9" y="76.4" font-size="17.4" font-weight="normal" fill="#000" textLength="53.3" lengthAdjust="spacingAndGlyphs" stroke="#fff" stroke-width="0.62" paint-order="fill stroke">CMASS</text>
<text x="151.9" y="117.9" font-size="17.4" font-weight="normal" fill="#ff0000" textLength="39" lengthAdjust="spacingAndGlyphs" stroke="#fff" stroke-width="0.62" paint-order="fill stroke">LRGs</text>
<g transform="translate(46.8 214.4) rotate(-90)">
<ellipse cx="4.8" cy="-6.4" rx="3.9" ry="3.4" fill="none" stroke="#000" stroke-width="1.7"/>
<path d="M4.8 0.2 V-13" fill="none" stroke="#000" stroke-width="1.6"/>
<path d="M26.9 4.3 H22.8 V-15.3 H26.9" fill="none" stroke="#000" stroke-width="1.5"/>
<path d="M145.6 4.3 H149.7 V-15.3 H145.6" fill="none" stroke="#000" stroke-width="1.5"/>
<text x="27.6" y="0" font-size="17.4" font-weight="normal" fill="#000" textLength="32.9" lengthAdjust="spacingAndGlyphs">Mpc</text>
<text x="63.8" y="-8.6" font-size="12.8" font-weight="bold" fill="#000" textLength="6.2" lengthAdjust="spacingAndGlyphs">−</text>
<text x="73.6" y="-8.8" font-size="12.8" font-weight="bold" fill="#000" textLength="6.3" lengthAdjust="spacingAndGlyphs">3</text>
<text x="89.4" y="0" font-size="17.4" font-weight="normal" fill="#000" textLength="36.8" lengthAdjust="spacingAndGlyphs">mag</text>
<text x="129.7" y="-8.6" font-size="12.8" font-weight="bold" fill="#000" textLength="5.5" lengthAdjust="spacingAndGlyphs">−</text>
<text x="138" y="-8.8" font-size="12.8" font-weight="bold" fill="#000" textLength="5.6" lengthAdjust="spacingAndGlyphs">1</text>
</g>
<text x="710.8" y="24.1" font-size="23.3" font-weight="normal" fill="#000" textLength="13.6" lengthAdjust="spacingAndGlyphs">V</text>
<text x="724.2" y="29.3" font-size="14" font-weight="bold" fill="#000" textLength="43.4" lengthAdjust="spacingAndGlyphs">match</text>
<text x="779.4" y="24" font-size="23.3" font-weight="normal" fill="#000" textLength="82" lengthAdjust="spacingAndGlyphs">weights</text>
<text x="563.6" y="46.6" font-size="19.2" font-weight="normal" fill="#000">10</text>
<text x="585.9" y="39.1" font-size="12.8" font-weight="bold" fill="#000" textLength="16" lengthAdjust="spacing">−3</text>
<text x="563.6" y="82.98" font-size="19.2" font-weight="normal" fill="#000">10</text>
<text x="585.9" y="75.48" font-size="12.8" font-weight="bold" fill="#000" textLength="16" lengthAdjust="spacing">−4</text>
<text x="563.6" y="124.56" font-size="19.2" font-weight="normal" fill="#000">10</text>
<text x="585.9" y="117.06" font-size="12.8" font-weight="bold" fill="#000" textLength="16" lengthAdjust="spacing">−5</text>
<text x="563.6" y="166.14" font-size="19.2" font-weight="normal" fill="#000">10</text>
<text x="585.9" y="158.64" font-size="12.8" font-weight="bold" fill="#000" textLength="16" lengthAdjust="spacing">−6</text>
<text x="563.6" y="207.72" font-size="19.2" font-weight="normal" fill="#000">10</text>
<text x="585.9" y="200.22" font-size="12.8" font-weight="bold" fill="#000" textLength="16" lengthAdjust="spacing">−7</text>
<text x="563.6" y="242.6" font-size="19.2" font-weight="normal" fill="#000">10</text>
<text x="585.9" y="235.1" font-size="12.8" font-weight="bold" fill="#000" textLength="16" lengthAdjust="spacing">−8</text>
<text x="588.65" y="268.7" font-size="19.2" font-weight="normal" fill="#000" textLength="37.2" lengthAdjust="spacingAndGlyphs">−25</text>
<text x="678.28" y="268.7" font-size="19.2" font-weight="normal" fill="#000" textLength="37.2" lengthAdjust="spacingAndGlyphs">−24</text>
<text x="767.9" y="268.7" font-size="19.2" font-weight="normal" fill="#000" textLength="37.2" lengthAdjust="spacingAndGlyphs">−23</text>
<text x="857.53" y="268.7" font-size="19.2" font-weight="normal" fill="#000" textLength="37.2" lengthAdjust="spacingAndGlyphs">−22</text>
<text x="947.15" y="268.7" font-size="19.2" font-weight="normal" fill="#000" textLength="37.2" lengthAdjust="spacingAndGlyphs">−21</text>
<text x="694.1" y="290.6" font-size="17.3" font-weight="normal" fill="#000" textLength="12.8" lengthAdjust="spacingAndGlyphs">M</text>
<text x="707.2" y="295.3" font-size="12.8" font-weight="bold" fill="#000">i</text>
<text x="715.6" y="295.3" font-size="12.8" font-weight="bold" fill="#000" textLength="25.2" lengthAdjust="spacingAndGlyphs">0.55</text>
<text x="750.2" y="290.6" font-size="17.4" font-weight="normal" fill="#000" textLength="35.4" lengthAdjust="spacingAndGlyphs">k+e</text>
<text x="794.3" y="290.6" font-size="17.4" font-weight="normal" fill="#000" textLength="83.7" lengthAdjust="spacingAndGlyphs">corrected</text>
<text x="651.9" y="76.4" font-size="17.4" font-weight="normal" fill="#000" textLength="53.3" lengthAdjust="spacingAndGlyphs" stroke="#fff" stroke-width="0.62" paint-order="fill stroke">CMASS</text>
<text x="651.9" y="117.9" font-size="17.4" font-weight="normal" fill="#ff0000" textLength="39" lengthAdjust="spacingAndGlyphs" stroke="#fff" stroke-width="0.62" paint-order="fill stroke">LRGs</text>
<g transform="translate(546.8 214.4) rotate(-90)">
<ellipse cx="4.8" cy="-6.4" rx="3.9" ry="3.4" fill="none" stroke="#000" stroke-width="1.7"/>
<path d="M4.8 0.2 V-13" fill="none" stroke="#000" stroke-width="1.6"/>
<path d="M26.9 4.3 H22.8 V-15.3 H26.9" fill="none" stroke="#000" stroke-width="1.5"/>
<path d="M145.6 4.3 H149.7 V-15.3 H145.6" fill="none" stroke="#000" stroke-width="1.5"/>
<text x="27.6" y="0" font-size="17.4" font-weight="normal" fill="#000" textLength="32.9" lengthAdjust="spacingAndGlyphs">Mpc</text>
<text x="63.8" y="-8.6" font-size="12.8" font-weight="bold" fill="#000" textLength="6.2" lengthAdjust="spacingAndGlyphs">−</text>
<text x="73.6" y="-8.8" font-size="12.8" font-weight="bold" fill="#000" textLength="6.3" lengthAdjust="spacingAndGlyphs">3</text>
<text x="89.4" y="0" font-size="17.4" font-weight="normal" fill="#000" textLength="36.8" lengthAdjust="spacingAndGlyphs">mag</text>
<text x="129.7" y="-8.6" font-size="12.8" font-weight="bold" fill="#000" textLength="5.5" lengthAdjust="spacingAndGlyphs">−</text>
<text x="138" y="-8.8" font-size="12.8" font-weight="bold" fill="#000" textLength="5.6" lengthAdjust="spacingAndGlyphs">1</text>
</g>
<text x="162.2" y="335.8" font-size="23.3" font-weight="normal" fill="#000" textLength="100.2" lengthAdjust="spacingAndGlyphs">Standard</text>
<text x="274.3" y="335.8" font-size="23.3" font-weight="normal" fill="#000" textLength="13" lengthAdjust="spacingAndGlyphs">V</text>
<text x="287.2" y="341" font-size="14" font-weight="bold" fill="#000" textLength="28.7" lengthAdjust="spacingAndGlyphs">max</text>
<text x="328.2" y="335.7" font-size="23.3" font-weight="normal" fill="#000" textLength="82" lengthAdjust="spacingAndGlyphs">weights</text>
<text x="63.6" y="358.3" font-size="19.2" font-weight="normal" fill="#000">10</text>
<text x="85.9" y="350.8" font-size="12.8" font-weight="bold" fill="#000" textLength="16" lengthAdjust="spacing">−3</text>
<text x="63.6" y="394.68" font-size="19.2" font-weight="normal" fill="#000">10</text>
<text x="85.9" y="387.18" font-size="12.8" font-weight="bold" fill="#000" textLength="16" lengthAdjust="spacing">−4</text>
<text x="63.6" y="436.26" font-size="19.2" font-weight="normal" fill="#000">10</text>
<text x="85.9" y="428.76" font-size="12.8" font-weight="bold" fill="#000" textLength="16" lengthAdjust="spacing">−5</text>
<text x="63.6" y="477.84" font-size="19.2" font-weight="normal" fill="#000">10</text>
<text x="85.9" y="470.34" font-size="12.8" font-weight="bold" fill="#000" textLength="16" lengthAdjust="spacing">−6</text>
<text x="63.6" y="519.42" font-size="19.2" font-weight="normal" fill="#000">10</text>
<text x="85.9" y="511.92" font-size="12.8" font-weight="bold" fill="#000" textLength="16" lengthAdjust="spacing">−7</text>
<text x="63.6" y="554.3" font-size="19.2" font-weight="normal" fill="#000">10</text>
<text x="85.9" y="546.8" font-size="12.8" font-weight="bold" fill="#000" textLength="16" lengthAdjust="spacing">−8</text>
<text x="88.65" y="580.4" font-size="19.2" font-weight="normal" fill="#000" textLength="37.2" lengthAdjust="spacingAndGlyphs">−24</text>
<text x="178.27" y="580.4" font-size="19.2" font-weight="normal" fill="#000" textLength="37.2" lengthAdjust="spacingAndGlyphs">−23</text>
<text x="267.9" y="580.4" font-size="19.2" font-weight="normal" fill="#000" textLength="37.2" lengthAdjust="spacingAndGlyphs">−22</text>
<text x="357.52" y="580.4" font-size="19.2" font-weight="normal" fill="#000" textLength="37.2" lengthAdjust="spacingAndGlyphs">−21</text>
<text x="447.15" y="580.4" font-size="19.2" font-weight="normal" fill="#000" textLength="37.2" lengthAdjust="spacingAndGlyphs">−20</text>
<text x="193.2" y="602.3" font-size="17.3" font-weight="normal" fill="#000" textLength="12.8" lengthAdjust="spacingAndGlyphs">M</text>
<text x="206.6" y="607" font-size="12.8" font-weight="bold" fill="#000">r</text>
<text x="216.6" y="607" font-size="12.8" font-weight="bold" fill="#000" textLength="25.2" lengthAdjust="spacingAndGlyphs">0.55</text>
<text x="251.2" y="602.3" font-size="17.4" font-weight="normal" fill="#000" textLength="35.4" lengthAdjust="spacingAndGlyphs">k+e</text>
<text x="295.3" y="602.3" font-size="17.4" font-weight="normal" fill="#000" textLength="83.7" lengthAdjust="spacingAndGlyphs">corrected</text>
<text x="151.9" y="388.1" font-size="17.4" font-weight="normal" fill="#000" textLength="53.3" lengthAdjust="spacingAndGlyphs" stroke="#fff" stroke-width="0.62" paint-order="fill stroke">CMASS</text>
<text x="151.9" y="429.6" font-size="17.4" font-weight="normal" fill="#ff0000" textLength="39" lengthAdjust="spacingAndGlyphs" stroke="#fff" stroke-width="0.62" paint-order="fill stroke">LRGs</text>
<g transform="translate(46.8 526.1) rotate(-90)">
<ellipse cx="4.8" cy="-6.4" rx="3.9" ry="3.4" fill="none" stroke="#000" stroke-width="1.7"/>
<path d="M4.8 0.2 V-13" fill="none" stroke="#000" stroke-width="1.6"/>
<path d="M26.9 4.3 H22.8 V-15.3 H26.9" fill="none" stroke="#000" stroke-width="1.5"/>
<path d="M145.6 4.3 H149.7 V-15.3 H145.6" fill="none" stroke="#000" stroke-width="1.5"/>
<text x="27.6" y="0" font-size="17.4" font-weight="normal" fill="#000" textLength="32.9" lengthAdjust="spacingAndGlyphs">Mpc</text>
<text x="63.8" y="-8.6" font-size="12.8" font-weight="bold" fill="#000" textLength="6.2" lengthAdjust="spacingAndGlyphs">−</text>
<text x="73.6" y="-8.8" font-size="12.8" font-weight="bold" fill="#000" textLength="6.3" lengthAdjust="spacingAndGlyphs">3</text>
<text x="89.4" y="0" font-size="17.4" font-weight="normal" fill="#000" textLength="36.8" lengthAdjust="spacingAndGlyphs">mag</text>
<text x="129.7" y="-8.6" font-size="12.8" font-weight="bold" fill="#000" textLength="5.5" lengthAdjust="spacingAndGlyphs">−</text>
<text x="138" y="-8.8" font-size="12.8" font-weight="bold" fill="#000" textLength="5.6" lengthAdjust="spacingAndGlyphs">1</text>
</g>
<text x="710.8" y="335.8" font-size="23.3" font-weight="normal" fill="#000" textLength="13.6" lengthAdjust="spacingAndGlyphs">V</text>
<text x="724.2" y="341" font-size="14" font-weight="bold" fill="#000" textLength="43.4" lengthAdjust="spacingAndGlyphs">match</text>
<text x="779.4" y="335.7" font-size="23.3" font-weight="normal" fill="#000" textLength="82" lengthAdjust="spacingAndGlyphs">weights</text>
<text x="563.6" y="358.3" font-size="19.2" font-weight="normal" fill="#000">10</text>
<text x="585.9" y="350.8" font-size="12.8" font-weight="bold" fill="#000" textLength="16" lengthAdjust="spacing">−3</text>
<text x="563.6" y="394.68" font-size="19.2" font-weight="normal" fill="#000">10</text>
<text x="585.9" y="387.18" font-size="12.8" font-weight="bold" fill="#000" textLength="16" lengthAdjust="spacing">−4</text>
<text x="563.6" y="436.26" font-size="19.2" font-weight="normal" fill="#000">10</text>
<text x="585.9" y="428.76" font-size="12.8" font-weight="bold" fill="#000" textLength="16" lengthAdjust="spacing">−5</text>
<text x="563.6" y="477.84" font-size="19.2" font-weight="normal" fill="#000">10</text>
<text x="585.9" y="470.34" font-size="12.8" font-weight="bold" fill="#000" textLength="16" lengthAdjust="spacing">−6</text>
<text x="563.6" y="519.42" font-size="19.2" font-weight="normal" fill="#000">10</text>
<text x="585.9" y="511.92" font-size="12.8" font-weight="bold" fill="#000" textLength="16" lengthAdjust="spacing">−7</text>
<text x="563.6" y="554.3" font-size="19.2" font-weight="normal" fill="#000">10</text>
<text x="585.9" y="546.8" font-size="12.8" font-weight="bold" fill="#000" textLength="16" lengthAdjust="spacing">−8</text>
<text x="588.65" y="580.4" font-size="19.2" font-weight="normal" fill="#000" textLength="37.2" lengthAdjust="spacingAndGlyphs">−24</text>
<text x="678.28" y="580.4" font-size="19.2" font-weight="normal" fill="#000" textLength="37.2" lengthAdjust="spacingAndGlyphs">−23</text>
<text x="767.9" y="580.4" font-size="19.2" font-weight="normal" fill="#000" textLength="37.2" lengthAdjust="spacingAndGlyphs">−22</text>
<text x="857.53" y="580.4" font-size="19.2" font-weight="normal" fill="#000" textLength="37.2" lengthAdjust="spacingAndGlyphs">−21</text>
<text x="947.15" y="580.4" font-size="19.2" font-weight="normal" fill="#000" textLength="37.2" lengthAdjust="spacingAndGlyphs">−20</text>
<text x="693.2" y="602.3" font-size="17.3" font-weight="normal" fill="#000" textLength="12.8" lengthAdjust="spacingAndGlyphs">M</text>
<text x="706.6" y="607" font-size="12.8" font-weight="bold" fill="#000">r</text>
<text x="716.6" y="607" font-size="12.8" font-weight="bold" fill="#000" textLength="25.2" lengthAdjust="spacingAndGlyphs">0.55</text>
<text x="751.2" y="602.3" font-size="17.4" font-weight="normal" fill="#000" textLength="35.4" lengthAdjust="spacingAndGlyphs">k+e</text>
<text x="795.3" y="602.3" font-size="17.4" font-weight="normal" fill="#000" textLength="83.7" lengthAdjust="spacingAndGlyphs">corrected</text>
<text x="651.9" y="388.1" font-size="17.4" font-weight="normal" fill="#000" textLength="53.3" lengthAdjust="spacingAndGlyphs" stroke="#fff" stroke-width="0.62" paint-order="fill stroke">CMASS</text>
<text x="651.9" y="429.6" font-size="17.4" font-weight="normal" fill="#ff0000" textLength="39" lengthAdjust="spacingAndGlyphs" stroke="#fff" stroke-width="0.62" paint-order="fill stroke">LRGs</text>
<g transform="translate(546.8 526.1) rotate(-90)">
<ellipse cx="4.8" cy="-6.4" rx="3.9" ry="3.4" fill="none" stroke="#000" stroke-width="1.7"/>
<path d="M4.8 0.2 V-13" fill="none" stroke="#000" stroke-width="1.6"/>
<path d="M26.9 4.3 H22.8 V-15.3 H26.9" fill="none" stroke="#000" stroke-width="1.5"/>
<path d="M145.6 4.3 H149.7 V-15.3 H145.6" fill="none" stroke="#000" stroke-width="1.5"/>
<text x="27.6" y="0" font-size="17.4" font-weight="normal" fill="#000" textLength="32.9" lengthAdjust="spacingAndGlyphs">Mpc</text>
<text x="63.8" y="-8.6" font-size="12.8" font-weight="bold" fill="#000" textLength="6.2" lengthAdjust="spacingAndGlyphs">−</text>
<text x="73.6" y="-8.8" font-size="12.8" font-weight="bold" fill="#000" textLength="6.3" lengthAdjust="spacingAndGlyphs">3</text>
<text x="89.4" y="0" font-size="17.4" font-weight="normal" fill="#000" textLength="36.8" lengthAdjust="spacingAndGlyphs">mag</text>
<text x="129.7" y="-8.6" font-size="12.8" font-weight="bold" fill="#000" textLength="5.5" lengthAdjust="spacingAndGlyphs">−</text>
<text x="138" y="-8.8" font-size="12.8" font-weight="bold" fill="#000" textLength="5.6" lengthAdjust="spacingAndGlyphs">1</text>
</g>
</svg>
</body></html>
